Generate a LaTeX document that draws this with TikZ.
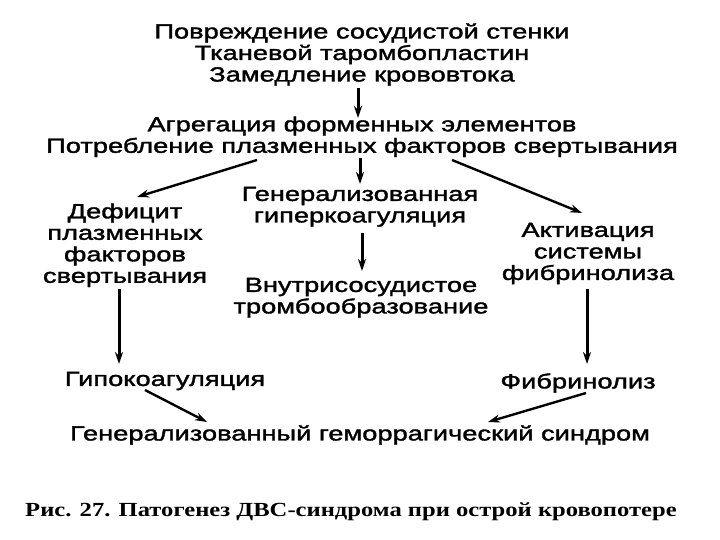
\documentclass[tikz,border=0pt]{standalone}
\usepackage{fontspec}
\setmainfont{Liberation Sans}[FakeStretch=1.33,FakeBold=1.6]
\newfontfamily\capfont{Liberation Serif}[FakeStretch=1.23]
\usetikzlibrary{arrows.meta,calc}
\begin{document}
\begin{tikzpicture}[x=1pt,y=-1pt,
  txt/.style={inner sep=0pt,align=center,font=\fontsize{20.5}{21.5}\selectfont},
  arr/.style={line width=2.4pt,-{Stealth[length=12pt,width=8pt]}},
  varr/.style={arr,line width=3pt}]
\useasboundingbox[fill=white] (0,0) rectangle (720,540);
\node[txt] (top) at (362,54.5) {Повреждение сосудистой стенки\\Тканевой таромбопластин\\Замедление крововтока};
\node[txt] (agg) at (362,136.75) {Агрегация форменных элементов\\Потребление плазменных факторов свертывания};
\node[txt] (gen) at (360,206.75) {Генерализованная\\гиперкоагуляция};
\node[txt] (def) at (125,245.25) {Дефицит\\плазменных\\факторов\\свертывания};
\node[txt] (act) at (588,253.5) {Активация\\системы\\фибринолиза};
\node[txt] (vnut) at (361,297.75) {Внутрисосудистое\\тромбообразование};
\node[txt] (hypo) at (165,381) {Гипокоагуляция};
\node[txt] (fibr) at (578,383) {Фибринолиз};
\node[txt] (ghs) at (360,435) {Генерализованный геморрагический синдром};
\node[inner sep=0pt,font=\capfont\bfseries\fontsize{20}{22}\selectfont] (cap) at (351,512) {Рис. 27. Патогенез ДВС-синдрома при острой кровопотере};
\draw[varr] ($(top)+(-4,33.5)$) -- ($(agg)+(-4,-18.75)$);
\draw[arr] ($(agg)+(-105,23.25)$) -- ($(def)+(12,-48.25)$);
\draw[varr] ($(agg)+(-2,21.25)$) -- ($(gen)+(0,-22.75)$);
\draw[arr] ($(agg)+(90,23.25)$) -- ($(act)+(-6,-40.5)$);
\draw[varr] ($(gen)+(2,26.25)$) -- ($(vnut)+(1,-26.75)$);
\draw[varr] ($(def)+(-6,43.75)$) -- ($(hypo)+(-46,-17)$);
\draw[varr] ($(act)+(-1,35.5)$) -- ($(fibr)+(9,-19)$);
\draw[arr] ($(hypo)+(-20,9)$) -- ($(ghs)+(-153,-13)$);
\draw[arr] ($(fibr)+(8,10)$) -- ($(ghs)+(128,-13)$);
\end{tikzpicture}
\end{document}
